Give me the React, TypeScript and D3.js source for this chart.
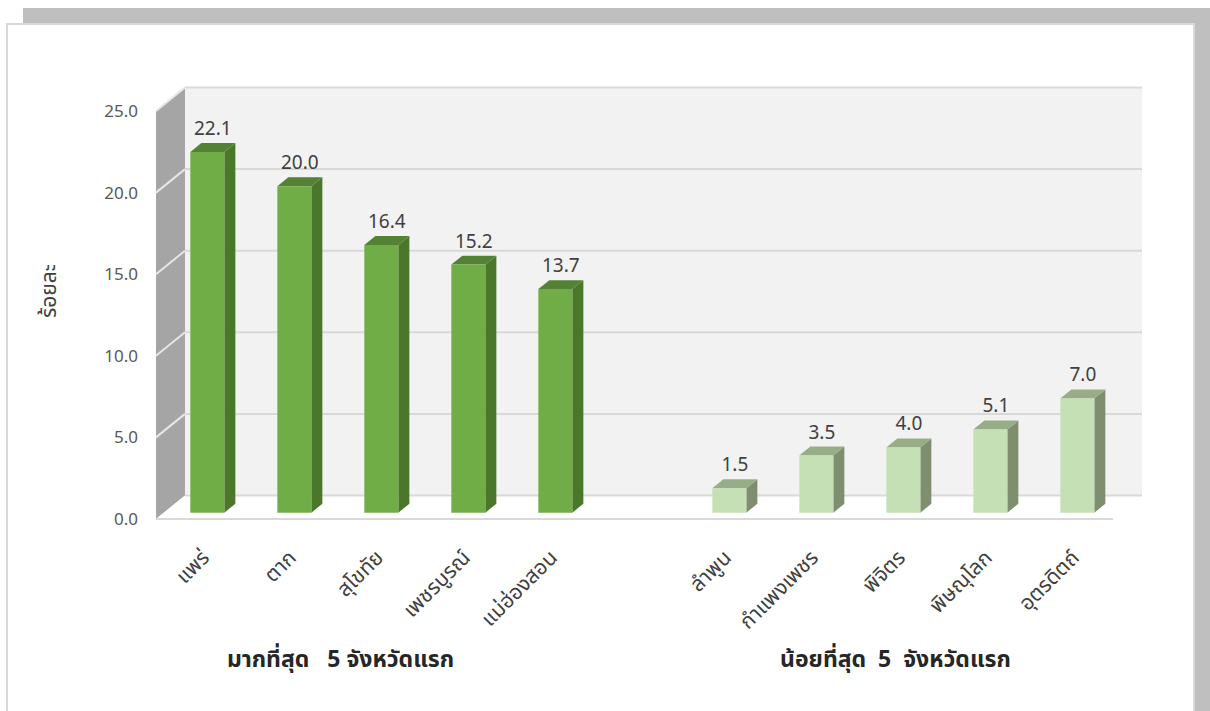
import React from "react";
import * as d3 from "d3";

const topCategories = ["แพร่", "ตาก", "สุโขทัย", "เพชรบูรณ์", "แม่ฮ่องสอน"];
const topValues = [22.1, 20.0, 16.4, 15.2, 13.7];
const bottomCategories = ["ลำพูน", "กำแพงเพชร", "พิจิตร", "พิษณุโลก", "อุตรดิตถ์"];
const bottomValues = [1.5, 3.5, 4.0, 5.1, 7.0];
const groupLabels = ["มากที่สุด   5 จังหวัดแรก", "น้อยที่สุด  5  จังหวัดแรก"];
const yTicks = [0, 5, 10, 15, 20, 25];
const yTitle = "ร้อยละ";

const W = 1210;
const H = 711;
const X0 = 156;
const X1 = 1113;
const DX = 29;
const DY = -23.5;
const T0 = 0.27;
const T1 = 0.65;

const THAI = "'Noto Sans Thai', 'Leelawadee UI', Tahoma, 'Noto Sans', sans-serif";
const NUM = "'Noto Sans', 'Open Sans', sans-serif";

type Bar = { cat: string; value: number; group: number };
const bars: Bar[] = [
  ...topCategories.map((c, i) => ({ cat: c, value: topValues[i], group: 0 })),
  ...bottomCategories.map((c, i) => ({ cat: c, value: bottomValues[i], group: 1 })),
];
const slots = [...topCategories, "__gap__", ...bottomCategories];

const colors = [
  { front: "#70ad47", side: "#4a7729", top: "#548235" },
  { front: "#c5e0b4", side: "#7f8e6f", top: "#97ad87" },
];

export default function App() {
  const x = d3.scaleBand<string>().domain(slots).range([X0, X1]).paddingInner(0).paddingOuter(0);
  const y = d3.scaleLinear().domain([0, 25]).range([519, 111]);
  const step = x.step();
  const bw = 34;
  const proj = (px: number, v: number, t: number): [number, number] => [px + DX * t, y(v) + DY * t];
  const pts = (arr: [number, number][]) => arr.map((p) => p.join(",")).join(" ");

  const backWall = pts([proj(X0, 0, 1), proj(X1, 0, 1), proj(X1, 25, 1), proj(X0, 25, 1)]);
  const sideWall = pts([proj(X0, 0, 0), proj(X0, 25, 0), proj(X0, 25, 1), proj(X0, 0, 1)]);
  const floor = pts([proj(X0, 0, 0), proj(X1, 0, 0), proj(X1, 0, 1), proj(X0, 0, 1)]);

  const groupCenters = [
    (x(topCategories[0])! + x(topCategories[4])! + step) / 2,
    (x(bottomCategories[0])! + x(bottomCategories[4])! + step) / 2,
  ];

  return (
    <svg width={W} height={H} style={{ position: "absolute", left: 0, top: 0 }}>
      <rect x={23} y={8} width={W - 23} height={H} fill="#bfbfbf" />
      <rect x={7} y={24} width={1187} height={720} fill="#ffffff" stroke="#d9d9d9" strokeWidth={2} />

      <polygon points={backWall} fill="#f2f2f2" />
      <polygon points={sideWall} fill="#a5a5a5" />
      <polygon points={floor} fill="#ffffff" />
      {yTicks.map((v) => {
        const a = proj(X0, v, 1);
        const b = proj(X1, v, 1);
        const c = proj(X0, v, 0);
        return (
          <g key={v}>
            <line x1={a[0]} y1={a[1]} x2={b[0]} y2={b[1]} stroke="#d9d9d9" strokeWidth={2} />
            {v > 0 && <line x1={c[0]} y1={c[1]} x2={a[0]} y2={a[1]} stroke="#e6e6e6" strokeWidth={2} />}
          </g>
        );
      })}
      <line
        x1={proj(X0, 0, 0)[0]}
        y1={proj(X0, 0, 0)[1]}
        x2={proj(X1, 0, 0)[0]}
        y2={proj(X1, 0, 0)[1]}
        stroke="#d9d9d9"
        strokeWidth={2}
      />

      {yTicks.map((v) => (
        <text
          key={v}
          x={138}
          y={y(v)}
          dy="0.35em"
          textAnchor="end"
          fontFamily={NUM}
          fontSize={17}
          fill="#595959"
        >
          {v.toFixed(1)}
        </text>
      ))}
      <text
        transform={`translate(56,291) rotate(-90)`}
        textAnchor="middle"
        fontFamily={THAI}
        fontSize={21}
        fill="#404040"
      >
        {yTitle}
      </text>

      {bars.map((b) => {
        const cx = x(b.cat)! + step / 2;
        const xl = cx - bw / 2;
        const xr = cx + bw / 2;
        const c = colors[b.group];
        const front = pts([proj(xl, 0, T0), proj(xr, 0, T0), proj(xr, b.value, T0), proj(xl, b.value, T0)]);
        const side = pts([proj(xr, 0, T0), proj(xr, 0, T1), proj(xr, b.value, T1), proj(xr, b.value, T0)]);
        const top = pts([proj(xl, b.value, T0), proj(xr, b.value, T0), proj(xr, b.value, T1), proj(xl, b.value, T1)]);
        const lp = proj(cx, b.value, (T0 + T1) / 2);
        return (
          <g key={b.cat}>
            <polygon points={side} fill={c.side} />
            <polygon points={top} fill={c.top} />
            <polygon points={front} fill={c.front} />
            <text
              x={lp[0]}
              y={proj(cx, b.value, T0)[1] - 17}
              textAnchor="middle"
              fontFamily={NUM}
              fontSize={19}
              fill="#404040"
            >
              {b.value.toFixed(1)}
            </text>
            <text
              transform={`translate(${cx + 11},${559}) rotate(-45)`}
              textAnchor="end"
              fontFamily={THAI}
              fontSize={21}
              fill="#404040"
            >
              {b.cat}
            </text>
          </g>
        );
      })}

      {groupLabels.map((g, i) => (
        <text
          key={g}
          x={groupCenters[i] - (i === 0 ? 33 : 0)}
          y={667}
          textAnchor="middle"
          fontFamily={THAI}
          fontSize={23}
          fontWeight="bold"
          fill="#262626"
          style={{ whiteSpace: "pre" }}
        >
          {g}
        </text>
      ))}
    </svg>
  );
}
